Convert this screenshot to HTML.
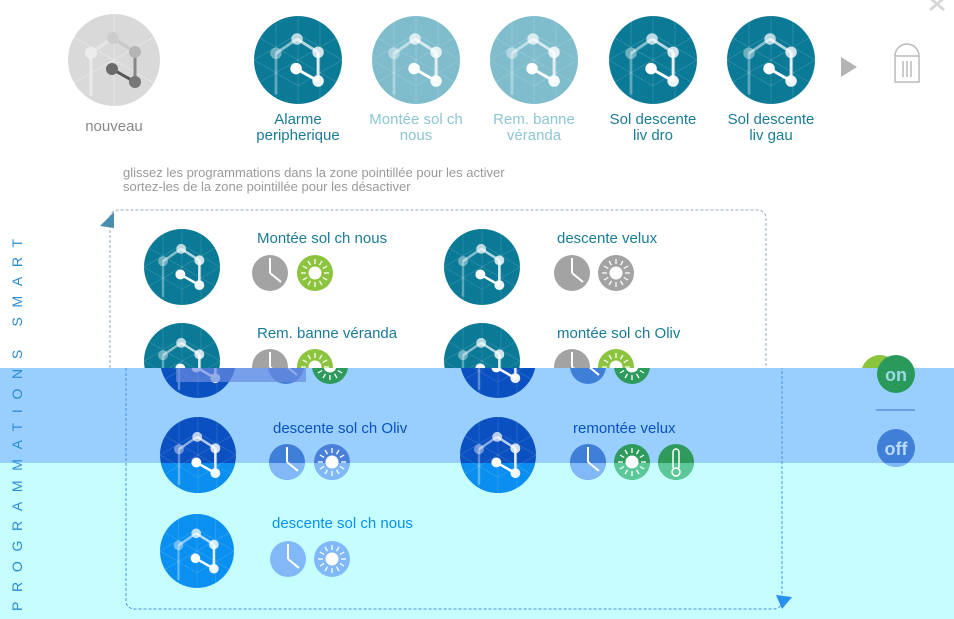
<!DOCTYPE html>
<html><head><meta charset="utf-8"><style>
html,body{margin:0;padding:0;background:#fff;}
svg{display:block;font-family:"Liberation Sans",Arial,sans-serif;}
</style></head><body>
<svg width="954" height="619" viewBox="0 0 954 619" xmlns="http://www.w3.org/2000/svg">
<defs>
<symbol id="g" viewBox="-46 -46 92 92" overflow="visible">
  <g stroke="#fff" stroke-opacity="0.14" stroke-width="1" fill="none">
    <line x1="0" y1="-46" x2="0" y2="46"/><line x1="-23" y1="-40" x2="-23" y2="40"/><line x1="23" y1="-40" x2="23" y2="40"/>
    <line x1="-40" y1="-23" x2="40" y2="23"/><line x1="-40" y1="23" x2="40" y2="-23"/>
    <line x1="-46" y1="0" x2="0" y2="-27"/><line x1="0" y1="27" x2="46" y2="0"/>
    <line x1="-46" y1="0" x2="0" y2="27"/><line x1="0" y1="-27" x2="46" y2="0"/>
  </g>
  <g stroke="#fff" stroke-width="3">
    <line x1="-23" y1="-7" x2="-23" y2="36" stroke-opacity="0.3"/>
    <line x1="-23" y1="-7" x2="-1" y2="-22" stroke-opacity="0.5"/>
    <line x1="-1" y1="-22" x2="21" y2="-8" stroke-opacity="0.7"/>
    <line x1="21" y1="-8" x2="21" y2="22" stroke="#e8eef0"/>
    <line x1="-2" y1="9" x2="21" y2="22" stroke="#fff"/>
  </g>
  <circle cx="-1" cy="-22" r="6" fill="#fff" fill-opacity="0.7"/>
  <circle cx="-23" cy="-7" r="6" fill="#fff" fill-opacity="0.4"/>
  <circle cx="21" cy="-8" r="6" fill="#fff" fill-opacity="0.8"/>
  <circle cx="-2" cy="9" r="6" fill="#fff"/>
  <circle cx="21" cy="22" r="6" fill="#fff" fill-opacity="0.92"/>
</symbol>
<symbol id="clk" viewBox="-18 -18 36 36" overflow="visible">
  <line x1="0" y1="0" x2="0" y2="-15" stroke="#fff" stroke-width="2"/>
  <line x1="0" y1="0" x2="11" y2="9" stroke="#fff" stroke-width="2"/>
</symbol>
<symbol id="sun" viewBox="-18 -18 36 36" overflow="visible">
  <circle r="6.5" fill="#fff"/>
  <g stroke="#fff" stroke-width="1.3">
    <line x1="0" y1="-9" x2="0" y2="-14"/><line x1="0" y1="9" x2="0" y2="14"/>
    <line x1="-9" y1="0" x2="-14" y2="0"/><line x1="9" y1="0" x2="14" y2="0"/>
    <line x1="4.5" y1="-7.8" x2="7" y2="-12.1"/><line x1="-4.5" y1="-7.8" x2="-7" y2="-12.1"/>
    <line x1="4.5" y1="7.8" x2="7" y2="12.1"/><line x1="-4.5" y1="7.8" x2="-7" y2="12.1"/>
    <line x1="7.8" y1="-4.5" x2="12.1" y2="-7"/><line x1="-7.8" y1="-4.5" x2="-12.1" y2="-7"/>
    <line x1="7.8" y1="4.5" x2="12.1" y2="7"/><line x1="-7.8" y1="4.5" x2="-12.1" y2="7"/>
  </g>
</symbol>
<clipPath id="above"><rect x="0" y="0" width="954" height="368"/></clipPath>
<clipPath id="below"><rect x="0" y="368" width="954" height="300"/></clipPath>
<clipPath id="cyan"><rect x="0" y="463" width="954" height="200"/></clipPath>
</defs>

<g stroke="#d8d8d8" stroke-width="3"><line x1="930" y1="-2" x2="944" y2="10"/><line x1="944" y1="-2" x2="930" y2="10"/></g>

<!-- nouveau -->
<circle cx="114" cy="60" r="46" fill="#d9d9d9"/>
<g stroke="#fff" stroke-opacity="0.35"><line x1="114" y1="14" x2="114" y2="106"/><line x1="74" y1="37" x2="154" y2="83"/><line x1="74" y1="83" x2="154" y2="37"/></g>
<g stroke-width="3"><line x1="91" y1="53" x2="113" y2="38" stroke="#e6e6e6"/><line x1="113" y1="38" x2="135" y2="52" stroke="#c8c8c8"/><line x1="135" y1="52" x2="135" y2="82" stroke="#888"/><line x1="112" y1="69" x2="135" y2="82" stroke="#555"/><line x1="91" y1="53" x2="91" y2="96" stroke="#eaeaea"/></g>
<circle cx="113" cy="38" r="6" fill="#cdcdcd"/><circle cx="91" cy="53" r="6" fill="#ececec"/><circle cx="135" cy="52" r="6" fill="#b5b5b5"/><circle cx="112" cy="69" r="6" fill="#6a6a6a"/><circle cx="135" cy="82" r="6" fill="#777"/>
<text x="114" y="131" text-anchor="middle" font-size="15" fill="#888">nouveau</text>

<!-- top icons -->
<circle cx="298" cy="60" r="44" fill="#0b7a96"/><use href="#g" x="254" y="16" width="88" height="88"/>
<circle cx="416" cy="60" r="44" fill="#7fbdcd"/><use href="#g" x="372" y="16" width="88" height="88"/>
<circle cx="534" cy="60" r="44" fill="#7fbdcd"/><use href="#g" x="490" y="16" width="88" height="88"/>
<circle cx="653" cy="60" r="44" fill="#0b7a96"/><use href="#g" x="609" y="16" width="88" height="88"/>
<circle cx="771" cy="60" r="44" fill="#0b7a96"/><use href="#g" x="727" y="16" width="88" height="88"/>
<g font-size="15" text-anchor="middle">
<text x="298" y="124" fill="#1a7b95">Alarme</text><text x="298" y="140" fill="#1a7b95">peripherique</text>
<text x="416" y="124" fill="#8cc6d4">Montée sol ch</text><text x="416" y="140" fill="#8cc6d4">nous</text>
<text x="534" y="124" fill="#8cc6d4">Rem. banne</text><text x="534" y="140" fill="#8cc6d4">véranda</text>
<text x="653" y="124" fill="#1a7b95">Sol descente</text><text x="653" y="140" fill="#1a7b95">liv dro</text>
<text x="771" y="124" fill="#1a7b95">Sol descente</text><text x="771" y="140" fill="#1a7b95">liv gau</text>
</g>
<polygon points="841,57 841,77 857,67" fill="#b3b3b3"/>
<g stroke="#bbb" stroke-width="1.5" fill="none"><path d="M895,82 V56 A12,12 0 0 1 919,56 V82 Z"/><line x1="895" y1="56" x2="919" y2="56"/><line x1="903" y1="61" x2="903" y2="77"/><line x1="907" y1="61" x2="907" y2="77"/><line x1="911" y1="61" x2="911" y2="77"/></g>

<text x="123" y="177" font-size="13" fill="#999">glissez les programmations dans la zone pointillée pour les activer</text>
<text x="123" y="191" font-size="13" fill="#999">sortez-les de la zone pointillée pour les désactiver</text>

<!-- dashed box upper -->
<path d="M110,368 V218 A8,8 0 0 1 118,210 H758 A8,8 0 0 1 766,218 V368" fill="none" stroke="#9ab" stroke-dasharray="3,2"/>
<polygon points="100,226 114,212 114,228" fill="#4a8fb0"/>

<!-- row 1 -->
<circle cx="182" cy="267" r="38" fill="#0b7a96"/><use href="#g" x="144" y="229" width="76" height="76"/>
<circle cx="482" cy="267" r="38" fill="#0b7a96"/><use href="#g" x="444" y="229" width="76" height="76"/>
<text x="257" y="243" font-size="15" fill="#1a7b95">Montée sol ch nous</text>
<text x="557" y="243" font-size="15" fill="#1a7b95">descente velux</text>
<circle cx="270" cy="273" r="18" fill="#a3a3a3"/><use href="#clk" x="252" y="255" width="36" height="36"/>
<circle cx="315" cy="273" r="18" fill="#8cc43f"/><use href="#sun" x="297" y="255" width="36" height="36"/>
<circle cx="572" cy="273" r="18" fill="#a3a3a3"/><use href="#clk" x="554" y="255" width="36" height="36"/>
<circle cx="616" cy="273" r="18" fill="#a3a3a3"/><use href="#sun" x="598" y="255" width="36" height="36"/>

<!-- row 2 upper part -->
<g clip-path="url(#above)">
<circle cx="182" cy="361" r="38" fill="#0b7a96"/><use href="#g" x="144" y="323" width="76" height="76"/>
<circle cx="482" cy="361" r="38" fill="#0b7a96"/><use href="#g" x="444" y="323" width="76" height="76"/>
<circle cx="270" cy="367" r="18" fill="#a3a3a3"/><use href="#clk" x="252" y="349" width="36" height="36"/>
<circle cx="315" cy="367" r="18" fill="#8cc43f"/><use href="#sun" x="297" y="349" width="36" height="36"/>
<circle cx="572" cy="367" r="18" fill="#a3a3a3"/><use href="#clk" x="554" y="349" width="36" height="36"/>
<circle cx="616" cy="367" r="18" fill="#8cc43f"/><use href="#sun" x="598" y="349" width="36" height="36"/>
<circle cx="880" cy="374" r="19" fill="#8cc43f"/>
</g>
<text x="257" y="338" font-size="15" fill="#1a7b95">Rem. banne véranda</text>
<text x="557" y="338" font-size="15" fill="#1a7b95">montée sol ch Oliv</text>

<!-- bands -->
<rect x="0" y="368" width="954" height="95" fill="#99cfff"/>
<rect x="0" y="463" width="954" height="156" fill="#c6feff"/>

<text transform="translate(22,611) rotate(-90)" font-size="14" letter-spacing="9.7" fill="#2a8ad0">PROGRAMMATIONS SMART</text>

<path d="M126,368 V601 A8,8 0 0 0 134,609 H774 A8,8 0 0 0 782,601 V368" fill="none" stroke="#4a90e0" stroke-dasharray="3,2"/>
<polygon points="776,595 792,597 782,609" fill="#2a90f0"/>

<!-- row 2 lower part (shifted) -->
<g clip-path="url(#below)">
<circle cx="198" cy="360" r="38" fill="#0a50c0"/><use href="#g" x="160" y="322" width="76" height="76"/>
<circle cx="498" cy="360" r="38" fill="#0a50c0"/><use href="#g" x="460" y="322" width="76" height="76"/>
<circle cx="286" cy="366" r="18" fill="#3f7fd8"/><use href="#clk" x="268" y="348" width="36" height="36"/>
<circle cx="330" cy="366" r="18" fill="#2e9a5c"/><use href="#sun" x="312" y="348" width="36" height="36"/>
<circle cx="588" cy="366" r="18" fill="#3f7fd8"/><use href="#clk" x="570" y="348" width="36" height="36"/>
<circle cx="632" cy="366" r="18" fill="#2e9a5c"/><use href="#sun" x="614" y="348" width="36" height="36"/>
</g>
<rect x="176" y="368" width="130" height="14" fill="#6a8ae0" opacity="0.7"/>

<!-- row 3 -->
<circle cx="198" cy="455" r="38" fill="#0a50c0"/><circle cx="198" cy="455" r="38" fill="#0a8ff0" clip-path="url(#cyan)"/><use href="#g" x="160" y="417" width="76" height="76"/>
<circle cx="498" cy="455" r="38" fill="#0a50c0"/><circle cx="498" cy="455" r="38" fill="#0a8ff0" clip-path="url(#cyan)"/><use href="#g" x="460" y="417" width="76" height="76"/>
<text x="273" y="433" font-size="15" fill="#0a50c0">descente sol ch Oliv</text>
<text x="573" y="433" font-size="15" fill="#0a50c0">remontée velux</text>
<circle cx="287" cy="462" r="18" fill="#3f7fd8"/><circle cx="287" cy="462" r="18" fill="#80b8f8" clip-path="url(#cyan)"/><use href="#clk" x="269" y="444" width="36" height="36"/>
<circle cx="332" cy="462" r="18" fill="#4a80d8"/><circle cx="332" cy="462" r="18" fill="#80b8f8" clip-path="url(#cyan)"/><use href="#sun" x="314" y="444" width="36" height="36"/>
<circle cx="588" cy="462" r="18" fill="#3f7fd8"/><circle cx="588" cy="462" r="18" fill="#80b8f8" clip-path="url(#cyan)"/><use href="#clk" x="570" y="444" width="36" height="36"/>
<circle cx="632" cy="462" r="18" fill="#2e9a5c"/><circle cx="632" cy="462" r="18" fill="#5cc89a" clip-path="url(#cyan)"/><use href="#sun" x="614" y="444" width="36" height="36"/>
<circle cx="676" cy="462" r="18" fill="#2e9a5c"/><circle cx="676" cy="462" r="18" fill="#5cc89a" clip-path="url(#cyan)"/>
<g stroke="#fff" stroke-width="1.5" fill="none"><path d="M673,468 V452 A3,3 0 0 1 679,452 V468"/><circle cx="676" cy="472" r="4"/></g>

<!-- row 4 -->
<circle cx="197" cy="551" r="37" fill="#0a90f0"/><use href="#g" x="160" y="514" width="74" height="74"/>
<text x="272" y="528" font-size="15" fill="#0a90e8">descente sol ch nous</text>
<circle cx="288" cy="559" r="18" fill="#80b8f8"/><use href="#clk" x="270" y="541" width="36" height="36"/>
<circle cx="332" cy="559" r="18" fill="#80b8f8"/><use href="#sun" x="314" y="541" width="36" height="36"/>

<!-- on/off -->
<circle cx="896" cy="374" r="19" fill="#2a9a5c"/>
<text x="896" y="381" text-anchor="middle" font-size="18" font-weight="bold" fill="#9fd8e8">on</text>
<line x1="876" y1="410" x2="915" y2="410" stroke="#3a6fd0" stroke-width="1"/>
<circle cx="896" cy="448" r="19" fill="#3f7fd8"/>
<circle cx="896" cy="448" r="19" fill="#80b8f8" clip-path="url(#cyan)"/>
<text x="896" y="455" text-anchor="middle" font-size="18" font-weight="bold" fill="#b8dcf8">off</text>
</svg>
</body></html>
